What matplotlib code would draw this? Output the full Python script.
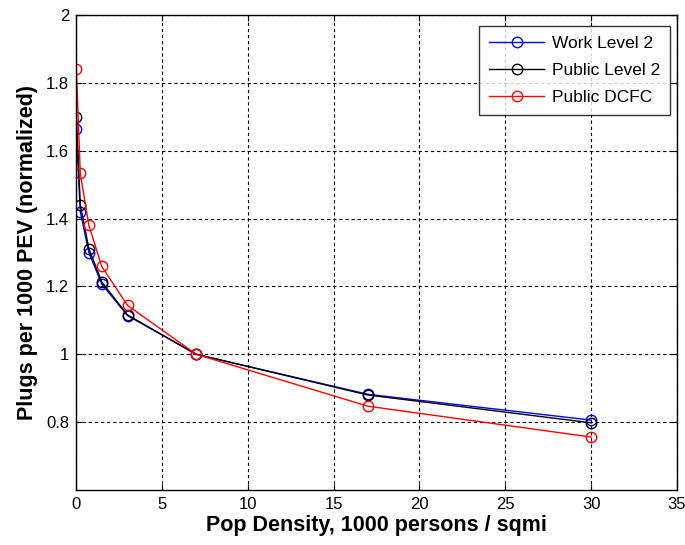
import matplotlib
matplotlib.use("Agg")
import matplotlib.pyplot as plt

# Data
density = [0.02, 0.25, 0.75, 1.5, 3, 7, 17, 30]
work_l2 = [1.663, 1.420, 1.300, 1.207, 1.114, 1.0, 0.882, 0.806]
public_l2 = [1.700, 1.441, 1.311, 1.213, 1.116, 1.0, 0.880, 0.798]
public_dcfc = [1.840, 1.533, 1.380, 1.259, 1.144, 1.0, 0.847, 0.756]

series_names = ["Work Level 2", "Public Level 2", "Public DCFC"]
series_colors = ["#0000ff", "#000000", "#ff0000"]

xticks = [0, 5, 10, 15, 20, 25, 30, 35]
yticks = [0.8, 1.0, 1.2, 1.4, 1.6, 1.8, 2.0]
ytick_labels = ["0.8", "1", "1.2", "1.4", "1.6", "1.8", "2"]

plt.rcParams["font.family"] = ["Liberation Sans", "DejaVu Sans"]

W, H = 685, 545
fig = plt.figure(figsize=(W / 100, H / 100), dpi=100)
left, right, top, bottom = 76, 677, 15, 490
ax = fig.add_axes([left / W, 1 - bottom / H, (right - left) / W, (bottom - top) / H])

for vals, name, col in zip([work_l2, public_l2, public_dcfc], series_names, series_colors):
    ax.plot(density, vals, color=col, linewidth=1.0, marker="o", markersize=7.5,
            markerfacecolor="none", markeredgecolor=col, markeredgewidth=1.0, label=name)

ax.set_xlim(0, 35)
ax.set_ylim(0.6, 2.0)
ax.set_xticks(xticks)
ax.set_xticklabels([str(t) for t in xticks])
ax.set_yticks(yticks)
ax.set_yticklabels(ytick_labels)

ax.grid(True, color="black", linestyle=(0, (3.0, 2.5)), linewidth=0.8)
ax.tick_params(direction="in", top=True, right=True, length=4, labelsize=12, pad=5)
for s in ax.spines.values():
    s.set_linewidth(1.0)

ax.set_xlabel("Pop Density, 1000 persons / sqmi", fontsize=15.5, fontweight="bold", labelpad=2)
ax.set_ylabel("Plugs per 1000 PEV (normalized)", fontsize=15.5, fontweight="bold", labelpad=6)

leg = ax.legend(loc="upper right", bbox_to_anchor=(670 / W, 1 - 26 / H),
                bbox_transform=fig.transFigure, borderaxespad=0.0,
                fontsize=12.5, frameon=True, fancybox=False, edgecolor="black",
                handlelength=3.2, handletextpad=0.45, labelspacing=0.7, borderpad=0.55)
leg.get_frame().set_linewidth(1.0)

fig.savefig("out.png", dpi=100, facecolor="white")
